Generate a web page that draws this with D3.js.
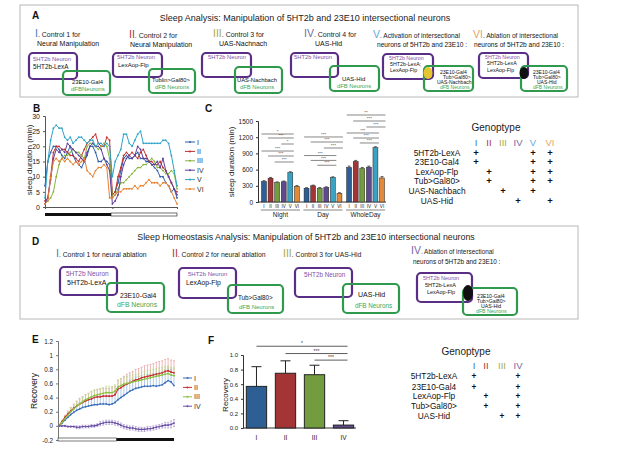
<!DOCTYPE html>
<html><head><meta charset="utf-8">
<script src="https://cdnjs.cloudflare.com/ajax/libs/d3/7.8.5/d3.min.js"></script>
<style>body{margin:0;background:#fff}svg{font-family:"Liberation Sans",Arial,sans-serif}</style>
</head><body><svg id="c" width="617" height="451"></svg>
<script>
// ---------------- DATA ----------------
const genos6 = ["I","II","III","IV","V","VI"];
const genos4 = ["I","II","III","IV"];
const groups = ["Night","Day","WholeDay"];
const groupLabels = ["Night","Day","WholeDay"];
// Panel B: sleep per 30 min bin (48 bins)
const sleepI   = [7,15,18,20,20,19,17,16,18,20,17,15,14,13,15,17,20,20,18,15,15,16,15,14, 4,5,8,12,16,17,16,16,17,18,16,16,15,15,14,13,12,10,10,8,7,5,6,3];
const sleepII  = [2,3,10,18,20,20,19,19,18,17,17,16,15,17,19,21,22,23,24,21,20,20,23,22, 4,5,10,13,17,18,17,18,17,16,18,19,17,15,15,14,14,15,13,12,10,8,6,5];
const sleepIII = [1,2,3,5,10,14,16,17,17,18,19,18,18,17,16,20,21,21,20,19,20,21,20,16, 3,4,6,8,8,9,10,11,12,13,13,14,14,15,16,15,13,13,12,11,11,12,11,6];
const sleepIV  = [1,3,9,16,19,18,19,18,21,20,19,18,17,16,15,18,20,21,20,20,19,16,14,12, 1,2,4,10,14,16,17,16,17,20,19,16,16,15,14,14,15,13,16,12,10,8,6,4];
const sleepV   = [3,15,22,26,27,26,26,23,22,23,21,22,23,23,22,21,22,22,20,21,21,20,21,20, 10,15,17,19,24,24,21,20,22,24,25,21,21,21,21,21,21,21,22,22,21,17,12,7];
const sleepVI  = [1,2,10,15,16,15,16,15,16,15,14,15,14,15,16,12,11,10,12,13,13,14,13,3, 3,4,5,5,6,6,6,6,7,6,7,7,8,9,8,8,8,7,8,8,7,5,3,1];
// Panel C: total sleep (min)
const sleepNight = [380,440,360,375,545,290];
const sleepDay   = [255,300,255,270,455,160];
const sleepWhole = [640,750,620,645,1005,445];
const errNight = [15,15,12,14,15,14];
const errDay   = [10,12,12,11,12,12];
const errWhole = [25,20,20,20,18,25];
const cTicks = [0,300,600,900,1200,1500];
// significance: [group, from, to, level(min), label]
const sigC = [
  ["Night",0,4,1259,"*"],["Night",1,4,1185,"***"],["Night",3,4,1074,"*"],
  ["Night",0,4,944,"***"],["Night",1,4,852,"***"],["Night",2,4,741,"***"],
  ["Day",0,5,1204,"***"],["Day",1,5,1111,"***"],["Day",3,5,1000,"***"],
  ["Day",0,4,860,"***"],["Day",1,4,770,"***"],["Day",2,4,680,"***"],
  ["WholeDay",0,5,1611,"**"],["WholeDay",1,5,1500,"***"],["WholeDay",3,5,1389,"***"],
  ["WholeDay",0,4,1278,"***"],["WholeDay",1,4,1185,"***"],["WholeDay",2,4,1093,"***"]
];
const bTicks = [0,5,10,15,20,25,30];
// Panel E: recovery time course (40 points)
const recI   = [0,0.04,0.08,0.12,0.16,0.19,0.22,0.24,0.26,0.27,0.28,0.29,0.30,0.30,0.31,0.31,0.31,0.30,0.31,0.33,0.37,0.40,0.43,0.46,0.49,0.51,0.53,0.54,0.55,0.56,0.56,0.56,0.57,0.56,0.57,0.58,0.61,0.64,0.62,0.57];
const recIerr= [0,0.02,0.04,0.05,0.06,0.07,0.08,0.09,0.1,0.1,0.11,0.11,0.11,0.12,0.12,0.12,0.12,0.12,0.12,0.13,0.13,0.14,0.14,0.15,0.15,0.15,0.16,0.16,0.16,0.17,0.17,0.17,0.17,0.18,0.18,0.18,0.18,0.18,0.18,0.18];
const recII  = [0,0.06,0.12,0.17,0.21,0.25,0.28,0.31,0.33,0.35,0.37,0.38,0.40,0.41,0.41,0.42,0.42,0.42,0.42,0.44,0.52,0.54,0.57,0.59,0.61,0.63,0.65,0.66,0.68,0.69,0.70,0.71,0.72,0.73,0.74,0.75,0.77,0.78,0.76,0.75];
const recIIerr=[0,0.02,0.03,0.04,0.05,0.06,0.07,0.08,0.08,0.09,0.09,0.1,0.1,0.1,0.11,0.11,0.11,0.11,0.12,0.12,0.13,0.13,0.13,0.14,0.14,0.14,0.15,0.15,0.15,0.16,0.16,0.16,0.16,0.17,0.17,0.17,0.17,0.17,0.17,0.17];
const recIII = [0,0.05,0.10,0.15,0.20,0.24,0.28,0.31,0.34,0.37,0.39,0.41,0.43,0.44,0.45,0.46,0.47,0.47,0.47,0.49,0.55,0.57,0.59,0.60,0.61,0.62,0.63,0.64,0.65,0.66,0.67,0.68,0.69,0.70,0.71,0.72,0.73,0.74,0.72,0.71];
const recIIIerr=[0,0.02,0.03,0.04,0.05,0.05,0.06,0.06,0.07,0.07,0.07,0.08,0.08,0.08,0.08,0.08,0.09,0.09,0.09,0.09,0.09,0.1,0.1,0.1,0.1,0.1,0.1,0.1,0.11,0.11,0.11,0.11,0.11,0.11,0.11,0.11,0.11,0.11,0.11,0.11];
const recIV  = [0,0,0,-0.01,-0.01,-0.01,-0.02,-0.02,-0.01,-0.01,-0.01,0,0,0.01,0.03,0.04,0.05,0.05,0.05,0.04,0.03,0.01,-0.01,-0.02,-0.03,-0.03,-0.04,-0.05,-0.05,-0.05,-0.04,-0.04,-0.03,-0.02,-0.01,0,0.01,0.01,0.02,0.04];
const recIVerr=[0,0.01,0.01,0.01,0.01,0.01,0.02,0.02,0.02,0.02,0.02,0.02,0.02,0.02,0.03,0.03,0.03,0.03,0.03,0.03,0.03,0.03,0.03,0.03,0.03,0.03,0.03,0.03,0.03,0.03,0.03,0.03,0.03,0.03,0.03,0.03,0.04,0.04,0.05,0.05];
const eTicks = [-0.2,0,0.2,0.4,0.6,0.8,1,1.2];
// Panel F
const recovery = [0.57,0.75,0.73,0.04];
const recoveryErr = [0.27,0.17,0.13,0.06];
const fTicks = [0,0.2,0.4,0.6,0.8,1.0];
const sigF = [[0,3,1.12,"*"],[1,3,1.02,"***"],[2,3,0.93,"***"]];
// Genotype tables
const rows6 = ["5HT2b-LexA","23E10-Gal4","LexAop-Flp","Tub>Gal80>","UAS-Nachbach","UAS-Hid"];
const plus6 = [[1,0,0,0,1,1],[1,0,0,0,1,1],[0,1,0,0,1,1],[0,1,0,0,1,1],[0,0,1,0,1,0],[0,0,0,1,0,1]];
const rows4 = ["5HT2b-LexA","23E10-Gal4","LexAop-Flp","Tub>Gal80>","UAS-Hid"];
const plus4 = [[1,0,0,1],[1,0,0,1],[0,1,0,1],[0,1,0,1],[0,0,1,1]];

// ---------------- STYLE ----------------
const lineCol = {I:"#2f5fa8",II:"#c0302e",III:"#86b43e",IV:"#5e3f9c",V:"#2ea3c8",VI:"#ea8030"};
const barCol  = {I:"#2d5f94",II:"#a33536",III:"#739c3f",IV:"#5f4a8c",V:"#3aa2c2",VI:"#e08a3a"};
const numCol  = {I:"#3f78b8",II:"#b23434",III:"#a8aa48",IV:"#7468a4",V:"#62aad6",VI:"#e4a468"};
const PURPLE="#5a2d86", GREEN="#2f9a4d", PTXT="#7c52a8", GTXT="#3aa854";

const svg = d3.select("#c");
function T(g,x,y,s,o={}){
  const t=g.append("text").attr("x",x).attr("y",y).text(s)
    .attr("font-size",o.fs||7).attr("fill",o.c||"#111")
    .attr("text-anchor",o.a||"start");
  if(o.w) t.attr("font-weight",o.w);
  return t;
}
function hdr(g,x,y,num,rest,fs,nfs){
  const t=g.append("text").attr("x",x).attr("y",y).attr("font-size",fs||7).attr("fill","#1a1a1a");
  t.append("tspan").text(num).attr("font-size",nfs||10.5).attr("fill",numCol[num]);
  t.append("tspan").text(rest);
  return t;
}
function box(g,x,y,w,h,c){
  g.append("rect").attr("x",x).attr("y",y).attr("width",w).attr("height",h)
   .attr("rx",4).attr("fill","none").attr("stroke",c).attr("stroke-width",2.2);
}

// ---------------- PANEL A ----------------
const A = svg.append("g");
A.append("rect").attr("x",20).attr("y",5).attr("width",558).attr("height",92).attr("fill","none").attr("stroke","#b8b8b8");
T(A,32,19,"A",{fs:10,w:"bold"});
T(A,305,21,"Sleep Analysis: Manipulation of 5HT2b and 23E10 intersectional neurons",{fs:9,a:"middle",c:"#222"});
hdr(A,35,37,"I",". Control 1 for");
T(A,37,46,"Neural Manipulation");
hdr(A,129,38,"II",". Control 2 for");
T(A,130,47,"Neural Manipulation");
hdr(A,213,37,"III",". Control 3 for");
T(A,219,46,"UAS-Nachnach");
hdr(A,304,37,"IV",". Control 4 for");
T(A,315,46,"UAS-Hid");
hdr(A,373,38,"V",". Activation of intersectional",6.6);
T(A,377,47,"neurons of 5HT2b and 23E10 :",{fs:6.6});
hdr(A,473,38,"VI",". Ablation of intersectional",6.6);
T(A,474,47,"neurons of 5HT2b and 23E10 :",{fs:6.6});
// I
box(A,29,53,48,26,PURPLE); box(A,63,71,47,24,GREEN);
T(A,33,61,"5HT2b Neuron",{fs:5.8,c:PTXT}); T(A,33,69,"5HT2b-LexA",{fs:6.3});
T(A,72,84,"23E10-Gal4",{fs:5.8}); T(A,71,91,"dFBNeurons",{fs:6,c:GTXT});
// II
box(A,113,53,49,24,PURPLE); box(A,149,69,46,24,GREEN);
T(A,117,59,"5HT2b Neuron",{fs:5.8,c:PTXT}); T(A,118,67,"LexAop-Flp",{fs:6});
T(A,152,82,"Tublin>Gal80>",{fs:5.8}); T(A,155,89,"dFB Neurons",{fs:5.8,c:GTXT});
// III
box(A,202,53,49,24,PURPLE); box(A,235,67,47,26,GREEN);
T(A,208,59,"5HT2b Neuron",{fs:5.8,c:PTXT});
T(A,237,82,"UAS-Nachbach",{fs:5.8}); T(A,240,89,"dFB Neurons",{fs:5.8,c:GTXT});
// IV
box(A,291,53,47,24,PURPLE); box(A,330,66,49,25,GREEN);
T(A,294,59,"5HT2b Neuron",{fs:5.8,c:PTXT});
T(A,342,81,"UAS-Hid",{fs:6}); T(A,337,88,"dFB Neurons",{fs:5.8,c:GTXT});
// V
box(A,383,54,50,25,PURPLE); box(A,424,66,49,25,GREEN);
A.append("ellipse").attr("cx",428).attr("cy",73).attr("rx",4.5).attr("ry",6).attr("fill","#e6c62e");
T(A,389,60,"5HT2b Neuron",{fs:5.3,c:PTXT}); T(A,390,66,"5HT2b-LexA;",{fs:5.3}); T(A,390,72,"LexAop-Flp",{fs:5.3});
T(A,440,74,"23E10-Gal4",{fs:5}); T(A,443,79,"Tub>Gal80>",{fs:5}); T(A,437,84,"UAS-Nachbach",{fs:5}); T(A,440,89,"dFB Neurons",{fs:5,c:GTXT});
// VI
box(A,479,53,49,25,PURPLE); box(A,521,66,46,25,GREEN);
A.append("ellipse").attr("cx",524).attr("cy",73).attr("rx",4.5).attr("ry",6).attr("fill","#111");
T(A,485,59,"5HT2b Neuron",{fs:5.3,c:PTXT}); T(A,487,65,"5HT2b-LexA",{fs:5.3}); T(A,487,72,"LexAop-Flp",{fs:5.3});
T(A,533,74,"23E10-Gal4",{fs:5}); T(A,533,79,"Tub>Gal80>",{fs:5}); T(A,537,84,"UAS-Hid",{fs:5}); T(A,533,89,"dFB Neurons",{fs:5,c:GTXT});

// ---------------- PANEL B ----------------
const B = svg.append("g");
T(B,33,112,"B",{fs:10,w:"bold"});
const bx = d3.scaleLinear().domain([0,47]).range([45,177]);
const by = d3.scaleLinear().domain([0,30]).range([207,116]);
const bSeries = [["I",sleepI],["II",sleepII],["III",sleepIII],["IV",sleepIV],["V",sleepV],["VI",sleepVI]];
B.append("g").attr("transform","translate(45,0)").call(d3.axisLeft(by).tickValues(bTicks).tickSize(2).tickFormat(d3.format("d")))
 .call(g=>{g.selectAll("text").attr("font-size",7).attr("font-family","Liberation Sans, Arial").attr("fill","#222");g.selectAll("line,path").attr("stroke","#555");});
B.append("g").attr("transform","translate(0,207)").call(d3.axisBottom(bx).tickValues([0,24,47]).tickSize(2).tickFormat(""))
 .call(g=>g.selectAll("line,path").attr("stroke","#555"));
const bl = d3.line().x((d,i)=>bx(i)).y(d=>by(d));
bSeries.forEach(([k,v])=>{
  B.append("path").attr("d",bl(v)).attr("fill","none").attr("stroke",lineCol[k]).attr("stroke-width",1);
  B.selectAll(null).data(v).enter().append("circle").attr("cx",(d,i)=>bx(i)).attr("cy",d=>by(d)).attr("r",0.9).attr("fill",lineCol[k]);
});
B.append("rect").attr("x",bx(0)).attr("y",213).attr("width",bx(23.5)-bx(0)).attr("height",3).attr("fill","#111");
B.append("rect").attr("x",bx(23.5)).attr("y",213).attr("width",bx(47)-bx(23.5)).attr("height",3).attr("fill","#fff").attr("stroke","#111").attr("stroke-width",0.6);
T(B,0,0,"sleep duration (min)",{fs:8,a:"middle",c:"#222"}).attr("transform","translate(32,160) rotate(-90)");
bSeries.forEach(([k],i)=>{
  const y=142+i*9.4;
  B.append("line").attr("x1",185).attr("x2",195).attr("y1",y).attr("y2",y).attr("stroke",lineCol[k]);
  B.append("circle").attr("cx",190).attr("cy",y).attr("r",1).attr("fill",lineCol[k]);
  T(B,197,y+2.5,k,{fs:7,c:"#333"});
});

// ---------------- PANEL C ----------------
const C = svg.append("g");
T(C,205,112,"C",{fs:10,w:"bold"});
const cg = d3.scaleBand().domain(groups).range([260,386]).paddingInner(0.08).paddingOuter(0.02);
const ci = d3.scaleBand().domain(genos6).range([0,cg.bandwidth()]).paddingInner(0.25).paddingOuter(0.1);
const cy = d3.scaleLinear().domain([0,1500]).range([202,121]);
C.append("g").attr("transform","translate(258,0)").call(d3.axisLeft(cy).tickValues(cTicks).tickSize(2).tickFormat(d3.format("d")))
 .call(g=>{g.selectAll("text").attr("font-size",6.5).attr("font-family","Liberation Sans, Arial").attr("fill","#222");g.selectAll("line,path").attr("stroke","#333");});
C.append("line").attr("x1",258).attr("x2",386).attr("y1",202).attr("y2",202).attr("stroke","#333");
const cVals = {Night:[sleepNight,errNight],Day:[sleepDay,errDay],WholeDay:[sleepWhole,errWhole]};
groups.forEach((gname,gi)=>{
  const [vals,errs]=cVals[gname];
  genos6.forEach((k,i)=>{
    const x=cg(gname)+ci(k), w=ci.bandwidth();
    C.append("line").attr("x1",x+w/2).attr("x2",x+w/2).attr("y1",cy(vals[i])).attr("y2",cy(vals[i]+errs[i])).attr("stroke","#222").attr("stroke-width",0.7);
    C.append("line").attr("x1",x+w/2-1.5).attr("x2",x+w/2+1.5).attr("y1",cy(vals[i]+errs[i])).attr("y2",cy(vals[i]+errs[i])).attr("stroke","#222").attr("stroke-width",0.7);
    C.append("rect").attr("x",x).attr("y",cy(vals[i])).attr("width",w).attr("height",cy(0)-cy(vals[i])).attr("fill",barCol[k]).attr("stroke","#222").attr("stroke-width",0.5);
    T(C,x+w/2,208,k,{fs:4.6,a:"middle",c:"#222"});
  });
  const x0=cg(gname), x1=cg(gname)+cg.bandwidth();
  C.append("line").attr("x1",x0).attr("x2",x1).attr("y1",210).attr("y2",210).attr("stroke","#333").attr("stroke-width",0.6);
  T(C,(x0+x1)/2,217,groupLabels[gi],{fs:6.5,a:"middle",c:"#222"});
});
sigC.forEach(([gname,a,b,lev,lab])=>{
  const x1=cg(gname)+ci(genos6[a]), x2=cg(gname)+ci(genos6[b])+ci.bandwidth()+1;
  C.append("line").attr("x1",x1).attr("x2",x2).attr("y1",cy(lev)).attr("y2",cy(lev)).attr("stroke","#555").attr("stroke-width",0.7);
  T(C,(x1+x2)/2,cy(lev)-0.9,lab,{fs:4.4,a:"middle",c:"#333"});
});
T(C,0,0,"sleep duration (min)",{fs:8,a:"middle",c:"#222"}).attr("transform","translate(234,162) rotate(-90)");

// ---------------- GENOTYPE TABLE 1 ----------------
const G1 = svg.append("g");
T(G1,496,131,"Genoptype",{fs:10,a:"middle",c:"#222"});
const g1xs = {I:476,II:489,III:503,IV:518,V:533,VI:550};
genos6.forEach(k=>T(G1,g1xs[k],146,k,{fs:9.5,a:"middle",c:numCol[k]}));
rows6.forEach((r,ri)=>{
  const y=155.5+ri*9.6;
  T(G1,437,y,r,{fs:8.3,a:"middle",c:"#111"});
  plus6[ri].forEach((p,ci2)=>{ if(p) T(G1,g1xs[genos6[ci2]],y,"+",{fs:9.5,a:"middle",c:"#111",w:"bold"}); });
});

// ---------------- PANEL D ----------------
const D = svg.append("g");
D.append("rect").attr("x",20).attr("y",226).attr("width",558).attr("height",93).attr("fill","none").attr("stroke","#b8b8b8");
T(D,32,245,"D",{fs:10,w:"bold"});
T(D,306,240,"Sleep Homeostasis Analysis: Manipulation of 5HT2b and 23E10 intersectional neurons",{fs:8.8,a:"middle",c:"#222"});
hdr(D,56,257,"I",". Control 1 for neural ablation",6.8);
hdr(D,172,257,"II",". Control 2 for neural ablation",6.8);
hdr(D,283,257,"III",". Control 3 for UAS-Hid",6.8);
hdr(D,411,254,"IV",". Ablation of intersectional",6.4);
T(D,413,264,"neurons of 5HT2b and 23E10 :",{fs:6.4});
box(D,60,267,57,28,PURPLE); box(D,107,283,57,29,GREEN);
T(D,66,276,"5HT2b Neuron",{fs:6.5,c:PTXT}); T(D,67,285,"5HT2b-LexA",{fs:7});
T(D,120,298,"23E10-Gal4",{fs:6.8}); T(D,117,307,"dFB Neurons",{fs:6.8,c:GTXT});
box(D,179,268,57,30,PURPLE); box(D,228,285,55,28,GREEN);
T(D,188,276,"5HT2b Neuron",{fs:6,c:PTXT}); T(D,186,285,"LexAop-Flp",{fs:6.8});
T(D,238,300,"Tub>Gal80>",{fs:6.3}); T(D,239,309,"dFB Neurons",{fs:6,c:GTXT});
box(D,295,268,57,29,PURPLE); box(D,343,284,56,29,GREEN);
T(D,304,277,"5HT2b Neuron",{fs:6.3,c:PTXT});
T(D,358,297,"UAS-Hid",{fs:7}); T(D,355,308,"dFB Neurons",{fs:6.3,c:GTXT});
box(D,417,273,55,29,PURPLE); box(D,463,288,54,27,GREEN);
D.append("ellipse").attr("cx",468).attr("cy",293).attr("rx",5).attr("ry",8).attr("fill","#111");
T(D,423,280,"5HT2b Neuron",{fs:5.5,c:PTXT}); T(D,425,287,"5HT2b-LexA",{fs:5.5}); T(D,427,294,"LexAop-Flp",{fs:5.5});
T(D,477,298,"23E10-Gal4",{fs:5.2}); T(D,477,303,"Tub>Gal80>",{fs:5.2}); T(D,481,308,"UAS-Hid",{fs:5.2}); T(D,476,313,"dFB Neurons",{fs:5.2,c:GTXT});

// ---------------- PANEL E ----------------
const E = svg.append("g");
T(E,32,343,"E",{fs:10,w:"bold"});
const ex = d3.scaleLinear().domain([0,39]).range([59,174]);
const ey = d3.scaleLinear().domain([-0.2,1.2]).range([440,341]);
E.append("g").attr("transform","translate(58,0)").call(d3.axisLeft(ey).tickValues(eTicks).tickSize(2).tickFormat(d=>String(+d.toFixed(1))))
 .call(g=>{g.selectAll("text").attr("font-size",6.3).attr("font-family","Liberation Sans, Arial").attr("fill","#222");g.selectAll("line,path").attr("stroke","#777");});
const eSeries = [["I",recI,recIerr,"#8fb2dc",1],["II",recII,recIIerr,"#e79a9a",1],["III",recIII,recIIIerr,"#b9d98c",1],["IV",recIV,recIVerr,"#a898cc",0]];
const eCol = {I:"#3a6fb8",II:"#c83232",III:"#8ac040",IV:"#6a50a6"};
eSeries.forEach(([k,v,er,ec,up])=>{
  v.forEach((d,i)=>{
    const lo = up? d : d-er[i];
    E.append("line").attr("x1",ex(i)).attr("x2",ex(i)).attr("y1",ey(lo)).attr("y2",ey(d+er[i])).attr("stroke",ec).attr("stroke-width",0.7);
    E.append("line").attr("x1",ex(i)-1).attr("x2",ex(i)+1).attr("y1",ey(d+er[i])).attr("y2",ey(d+er[i])).attr("stroke",ec).attr("stroke-width",0.7);
    if(!up) E.append("line").attr("x1",ex(i)-1).attr("x2",ex(i)+1).attr("y1",ey(lo)).attr("y2",ey(lo)).attr("stroke",ec).attr("stroke-width",0.7);
  });
});
const el = d3.line().x((d,i)=>ex(i)).y(d=>ey(d));
eSeries.forEach(([k,v])=>{
  E.append("path").attr("d",el(v)).attr("fill","none").attr("stroke",eCol[k]).attr("stroke-width",1.1);
  E.selectAll(null).data(v).enter().append("circle").attr("cx",(d,i)=>ex(i)).attr("cy",d=>ey(d)).attr("r",0.9).attr("fill",eCol[k]);
});
E.append("rect").attr("x",ex(0)-1).attr("y",438).attr("width",ex(19.5)-ex(0)+1).attr("height",3).attr("fill","#fff").attr("stroke","#222").attr("stroke-width",0.6);
E.append("rect").attr("x",ex(19.5)).attr("y",438).attr("width",ex(39)-ex(19.5)).attr("height",3).attr("fill","#111");
T(E,0,0,"Recovery",{fs:8.5,a:"middle",c:"#222"}).attr("transform","translate(37,391) rotate(-90)");
genos4.forEach((k,i)=>{
  const y=378+i*9.4;
  E.append("line").attr("x1",183).attr("x2",192).attr("y1",y).attr("y2",y).attr("stroke",eCol[k]);
  E.append("circle").attr("cx",187.5).attr("cy",y).attr("r",1).attr("fill",eCol[k]);
  T(E,194,y+2.5,k,{fs:7,c:"#333"});
});

// ---------------- PANEL F ----------------
const F = svg.append("g");
T(F,208,344,"F",{fs:10,w:"bold"});
const fx = d3.scaleBand().domain(genos4).range([244,356]).paddingInner(0.3).paddingOuter(0.08);
const fy = d3.scaleLinear().domain([0,1]).range([428,355]);
F.append("g").attr("transform","translate(243,0)").call(d3.axisLeft(fy).tickValues(fTicks).tickSize(2).tickFormat(d3.format(".1f")))
 .call(g=>{g.selectAll("text").attr("font-size",6).attr("font-family","Liberation Sans, Arial").attr("fill","#222");g.selectAll("line,path").attr("stroke","#333");});
F.append("line").attr("x1",243).attr("x2",356).attr("y1",428).attr("y2",428).attr("stroke","#333");
genos4.forEach((k,i)=>{
  const x=fx(k), w=fx.bandwidth(), c=x+w/2;
  F.append("line").attr("x1",c).attr("x2",c).attr("y1",fy(recovery[i])).attr("y2",fy(recovery[i]+recoveryErr[i])).attr("stroke","#222").attr("stroke-width",1);
  F.append("line").attr("x1",c-5).attr("x2",c+5).attr("y1",fy(recovery[i]+recoveryErr[i])).attr("y2",fy(recovery[i]+recoveryErr[i])).attr("stroke","#222").attr("stroke-width",1);
  F.append("rect").attr("x",x).attr("y",fy(recovery[i])).attr("width",w).attr("height",fy(0)-fy(recovery[i])).attr("fill",barCol[k]).attr("stroke","#222").attr("stroke-width",1);
  T(F,c,440,k,{fs:6.5,a:"middle",c:"#222"});
});
sigF.forEach(([a,b,lev,lab])=>{
  const x1=fx(genos4[a])+fx.bandwidth()/2, x2=fx(genos4[b])+fx.bandwidth()/2+4;
  F.append("line").attr("x1",x1).attr("x2",x2).attr("y1",fy(lev)).attr("y2",fy(lev)).attr("stroke","#333").attr("stroke-width",0.8);
  T(F,(x1+x2)/2,fy(lev)-1,lab,{fs:5,a:"middle",c:"#333"});
});
T(F,0,0,"Recovery",{fs:8,a:"middle",c:"#222"}).attr("transform","translate(228,395) rotate(-90)");

// ---------------- GENOTYPE TABLE 2 ----------------
const G2 = svg.append("g");
T(G2,466,355,"Genoptype",{fs:10,a:"middle",c:"#222"});
const g2xs = {I:474,II:486,III:502,IV:518};
genos4.forEach(k=>T(G2,g2xs[k],369,k,{fs:9.5,a:"middle",c:numCol[k]}));
const rows4y = [379,389.5,399,408.5,419];
rows4.forEach((r,ri)=>{
  const y=rows4y[ri];
  T(G2,434,y,r,{fs:8.3,a:"middle",c:"#111"});
  plus4[ri].forEach((p,ci2)=>{ if(p) T(G2,g2xs[genos4[ci2]],y,"+",{fs:8.3,a:"middle",c:"#111",w:"bold"}); });
});
</script></body></html>
